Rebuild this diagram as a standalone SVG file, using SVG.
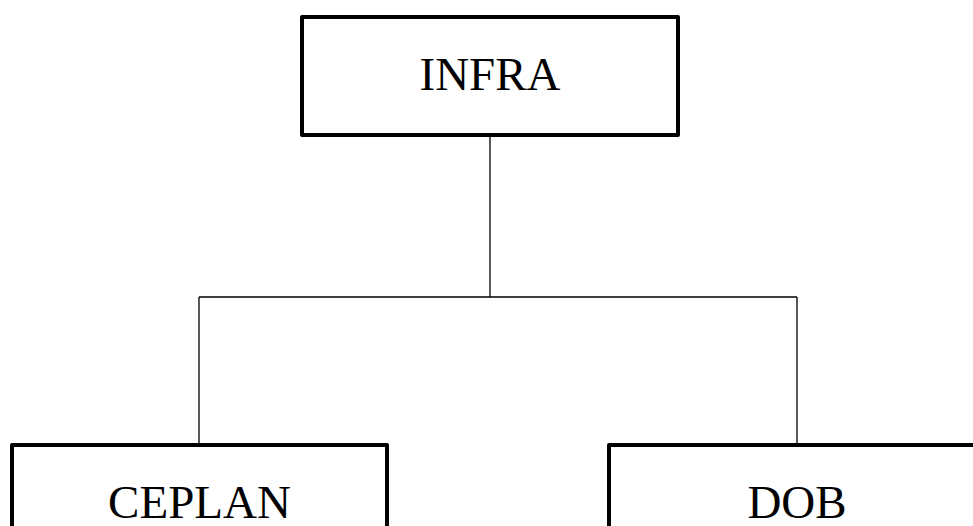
<svg xmlns="http://www.w3.org/2000/svg" width="973" height="526" viewBox="0 0 973 526">
<style>
.box{fill:#fff;stroke:#000;stroke-width:4;stroke-linejoin:round}
.lbl{font-family:"Liberation Serif","Times New Roman",serif;font-size:47px;fill:#000;text-anchor:middle}
.conn{fill:none;stroke:#000;stroke-width:1.3}
</style>
<rect width="973" height="526" fill="#fff"/>
<g id="connectors">
<path class="conn" d="M490 135V297M199 297H797M199 297V445M797 297V445"/>
</g>
<g id="infra">
<rect class="box" x="302" y="17" width="376" height="118"/>
<text class="lbl" x="490" y="90">INFRA</text>
</g>
<g id="ceplan">
<rect class="box" x="12" y="445" width="375" height="118"/>
<text class="lbl" x="199.5" y="518">CEPLAN</text>
</g>
<g id="dob">
<rect class="box" x="609" y="445" width="376" height="118"/>
<text class="lbl" x="797" y="518">DOB</text>
</g>
</svg>
